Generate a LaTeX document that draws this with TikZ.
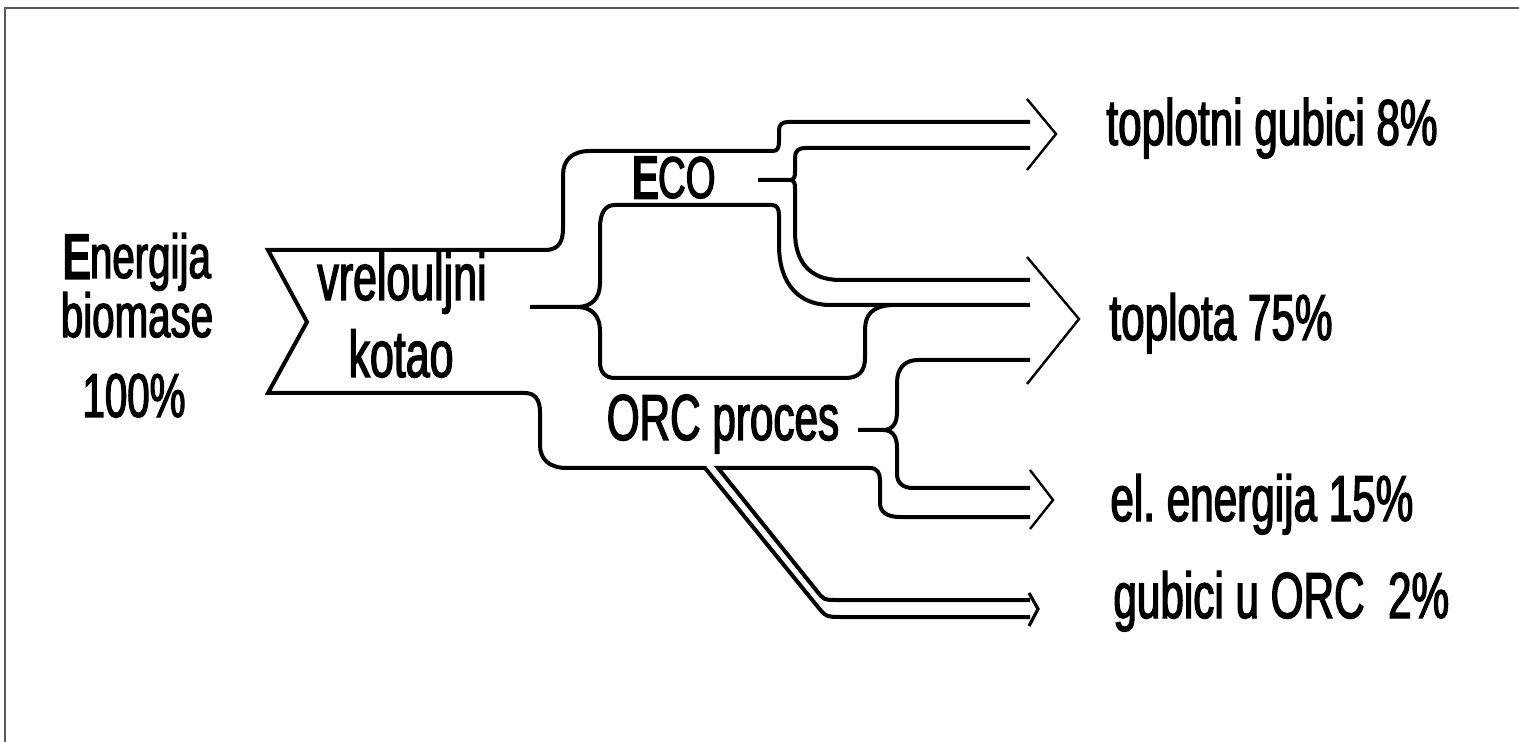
\documentclass[tikz,border=0pt]{standalone}
\usepackage{fontspec}
\setmainfont{Liberation Sans}[FakeStretch=0.65, FakeBold=2]
\newfontfamily\heavyE{Liberation Sans}[FakeStretch=0.65, FakeBold=5]
\begin{document}
\begin{tikzpicture}[x=0.5pt,y=-0.5pt,
  flow/.style={line width=2pt, line join=miter},
  head/.style={line width=1.2pt, line join=miter},
  lbl/.style={inner sep=0pt, font=\fontsize{32.5}{39}\selectfont},
  lbll/.style={inner sep=0pt, font=\fontsize{31}{37}\selectfont},
  lblm/.style={inner sep=0pt, font=\fontsize{33}{39}\selectfont},
  lbls/.style={inner sep=0pt, font=\fontsize{29.5}{35}\selectfont}]
\useasboundingbox (0,0) rectangle (1519,742);
% frame
\draw[black!65, line width=0.6pt] (5,742) -- (5,8) -- (1519,8);
% outer outline: top branch, input chevron, bottom branch
\draw[flow] (1030,122) -- (788,122) .. controls (782,122) and (779,125) .. (779,130) -- (779,141)
  .. controls (779,147) and (778,151) .. (773,151) -- (590,151)
  .. controls (572,151) and (563,160) .. (563,175) -- (563,228)
  .. controls (563,240) and (560,250) .. (545,250) -- (268,250) -- (307,322) -- (268,393) -- (525,393)
  .. controls (535,393) and (540,400) .. (540,412) -- (540,445)
  .. controls (540,460) and (550,468) .. (567,468) -- (705,468) -- (816,604.6)
  .. controls (826,617) .. (842,617) -- (1030,617);
% ECO split
\draw[flow] (758,180) -- (790,180) .. controls (794,180) and (795,177) .. (795,172) -- (795,158)
  .. controls (795,151) and (798,148) .. (806,148) -- (1030,148);
\draw[flow] (790,180) .. controls (794,180) and (795,183) .. (795,188) -- (795,232)
  .. controls (795,262) and (810,280) .. (840,280) -- (1030,280);
% boiler split
\draw[flow] (530,307) -- (577,307) .. controls (592,307) and (600,298) .. (600,283) -- (600,228)
  .. controls (600,213) and (605,205) .. (615,205) -- (772,205)
  .. controls (777,205) and (779,209) .. (779,215) -- (779,245)
  .. controls (779,285) and (800,305) .. (830,305) -- (1030,305);
\draw[flow] (577,307) .. controls (592,307) and (600,316) .. (600,331) -- (600,362)
  .. controls (600,372) and (605,378) .. (615,378) -- (845,378)
  .. controls (858,378) and (865,372) .. (865,358) -- (865,330)
  .. controls (865,315) and (872,306) .. (892,305);
% ORC lower lines
\draw[flow] (1030,600) -- (836,600) .. controls (824,600) .. (816.5,590.6) -- (718,468) -- (870,468)
  .. controls (877,468) and (880,473) .. (880,480) -- (880,503)
  .. controls (880,512) and (887,517) .. (900,517) -- (1030,517);
% ORC split
\draw[flow] (858,430) -- (883,430) .. controls (893,430) and (897,423) .. (897,412) -- (897,383)
  .. controls (897,368) and (905,360) .. (918,360) -- (1030,360);
\draw[flow] (883,430) .. controls (893,430) and (897,437) .. (897,448) -- (897,474)
  .. controls (897,483) and (903,488) .. (913,488) -- (1030,488);
% arrowheads
\draw[head] (1027,99) -- (1056,134) -- (1027,170);
\draw[head] (1027,257) -- (1079,319) -- (1027,384);
\draw[head] (1030,470) -- (1053,500) -- (1030,529);
\draw[line width=1.6pt, line join=miter] (1029,593) -- (1038,609) -- (1029,626);
% labels
\node[lbll, anchor=base] (en) at (137,278) {{\heavyE E}nergija};
\node[lbll, anchor=base] (bio) at (137,337) {biomase};
\node[lbll, anchor=base] (pct) at (134,417) {100\%};
\node[lblm, anchor=base] (vr) at (402,300) {vrelouljni};
\node[lblm, anchor=base] (ko) at (401,377) {kotao};
\node[lbls, anchor=base] (eco) at (674,198) {{\heavyE E}CO};
\node[lbl, anchor=base] (orc) at (723,440) {ORC proces};
\node[lbl, anchor=base west] (tg) at (1106,145) {toplotni gubici 8\%};
\node[lbl, anchor=base west] (tp) at (1109,340) {toplota 75\%};
\node[lbl, anchor=base west] (ee) at (1110,521) {el.\ energija 15\%};
\node[lbl, anchor=base west] (go) at (1113,618) {gubici u ORC\ \ 2\%};
\end{tikzpicture}
\end{document}
